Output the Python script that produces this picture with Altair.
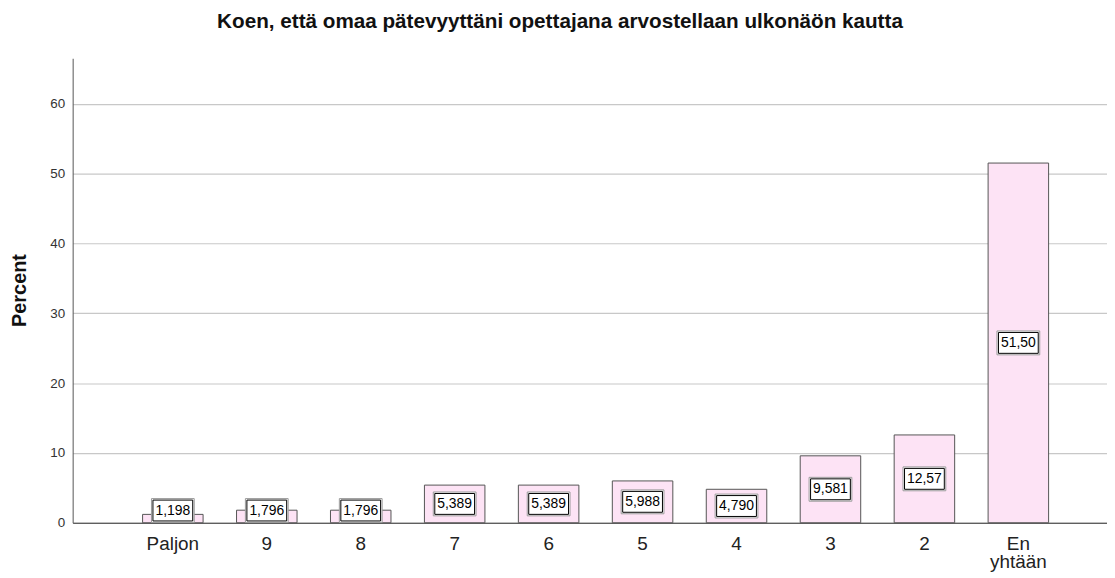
import altair as alt
import pandas as pd

categories = ["Paljon", "9", "8", "7", "6", "5", "4", "3", "2", "En yhtään"]
percents = [1.198, 1.796, 1.796, 5.389, 5.389, 5.988, 4.790, 9.581, 12.57, 51.50]
value_labels = ["1,198", "1,796", "1,796", "5,389", "5,389", "5,988", "4,790", "9,581", "12,57", "51,50"]
y_ticks = [0, 10, 20, 30, 40, 50, 60]

title_text = "Koen, että omaa pätevyyttäni opettajana arvostellaan ulkonäön kautta"

df = pd.DataFrame({"cat": categories, "pct": percents, "lab": value_labels})

FONT = "Liberation Sans"

x = alt.X(
    "cat:N",
    sort=categories,
    title=None,
    scale=alt.Scale(paddingInner=0.356, paddingOuter=0.683, align=0.545),
    axis=alt.Axis(
        labelAngle=0,
        labelExpr="split(datum.label, ' ')",
        labelFontSize=19,
        labelFont=FONT,
        labelColor="#222222",
        labelPadding=12,
        labelLineHeight=18,
        labelOverlap=False,
        ticks=False,
        grid=False,
        domainColor="#333333",
        domainWidth=1,
    ),
)

y = alt.Y(
    "pct:Q",
    scale=alt.Scale(domain=[0, 66.5], nice=False),
    axis=alt.Axis(
        values=y_ticks,
        title="Percent",
        titleFont=FONT,
        titleFontSize=20,
        titleFontWeight="bold",
        titleColor="#111111",
        titleAngle=270,
        titleX=-53,
        titleY=233,
        titleAlign="center",
        titleBaseline="middle",
        labelFont=FONT,
        labelFontSize=13.5,
        labelColor="#333333",
        labelPadding=8,
        ticks=False,
        gridColor="#c8c8c8",
        gridWidth=1.2,
        domainColor="#555555",
    ),
)

base = alt.Chart(df)

bars = base.mark_bar(fill="#fde3f5", stroke="#555555", strokeWidth=1).encode(x=x, y=y)

lab_base = base.transform_calculate(ly="max(datum.pct / 2, 1.75)")
ly = alt.Y("ly:Q", scale=alt.Scale(domain=[0, 66.5], nice=False))
lx = alt.X("cat:N", sort=categories)

shadow = lab_base.mark_point(
    shape="M-1,-0.558L1,-0.558L1,0.558L-1,0.558Z",
    size=1849,
    filled=True,
    fill="white",
    stroke="#999999",
    strokeWidth=1,
    opacity=1,
).encode(x=lx, y=ly)

box = lab_base.mark_point(
    shape="M-1,-0.525L1,-0.525L1,0.525L-1,0.525Z",
    size=1600,
    filled=True,
    fill="white",
    stroke="#000000",
    strokeWidth=1,
    opacity=1,
).encode(x=lx, y=ly)

text = lab_base.mark_text(
    font=FONT, fontSize=14, color="#000000", baseline="middle", align="center"
).encode(x=lx, y=ly, text="lab:N")

chart = (
    alt.layer(bars, shadow, box, text)
    .properties(
        width=1040,
        height=467,
        title=alt.TitleParams(
            title_text,
            font=FONT,
            fontSize=20.8,
            fontWeight="bold",
            color="#111111",
            anchor="middle",
            dx=-30,
            offset=10,
            baseline="alphabetic",
        ),
        autosize=alt.AutoSizeParams(type="none"),
        padding={"left": 65, "top": 49, "right": 0, "bottom": 54},
    )
    .configure_view(stroke=None)
)

chart.save("out.html", embed_options={"renderer": "svg", "actions": False})
